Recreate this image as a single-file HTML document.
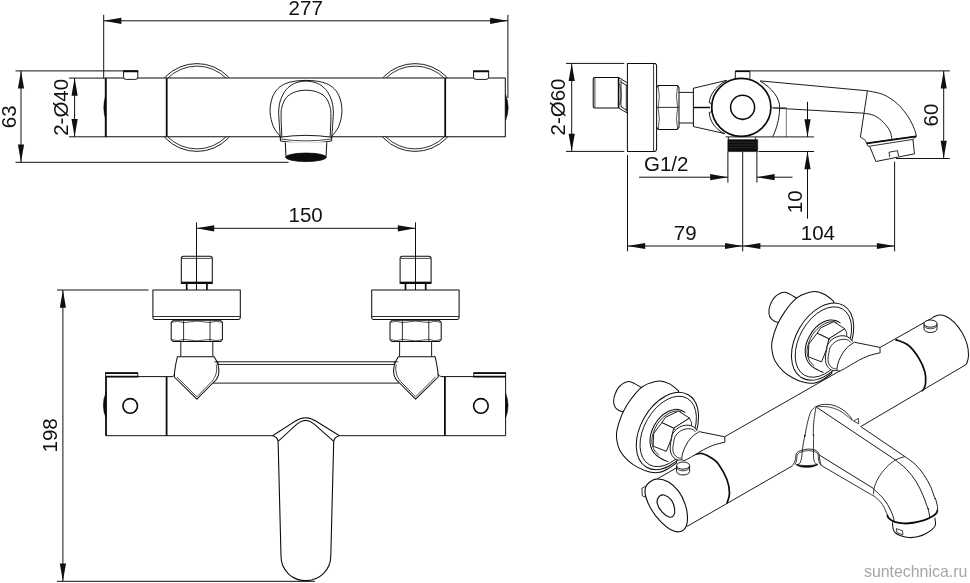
<!DOCTYPE html>
<html><head><meta charset="utf-8"><title>drawing</title>
<style>
html,body{margin:0;padding:0;background:#fff;}
body{width:970px;height:583px;overflow:hidden;font-family:"Liberation Sans",sans-serif;}
svg{display:block;will-change:transform;}
</style></head><body>
<svg width="970" height="583" viewBox="0 0 970 583" stroke-linecap="butt" stroke-linejoin="round">
<rect x="0" y="0" width="970" height="583" fill="#ffffff"/>
<g opacity="0.999">
<g id="v1">
<line x1="103.7" y1="14.8" x2="103.7" y2="78.1" stroke="#101010" stroke-width="1"/>
<line x1="507.9" y1="14.8" x2="507.9" y2="98" stroke="#101010" stroke-width="1"/>
<line x1="103.7" y1="20.8" x2="507.8" y2="20.8" stroke="#101010" stroke-width="1"/>
<polygon points="103.7,20.8 121.4,17.7 121.4,23.9" fill="#101010"/>
<polygon points="507.8,20.8 490.1,23.9 490.1,17.7" fill="#101010"/>
<text x="305.7" y="15.3" font-size="20.5" text-anchor="middle" fill="#111" font-family="'Liberation Sans', sans-serif">277</text>
<line x1="15.5" y1="70.9" x2="137.7" y2="70.9" stroke="#101010" stroke-width="1"/>
<line x1="15.5" y1="162.3" x2="288.5" y2="162.3" stroke="#101010" stroke-width="1"/>
<line x1="21" y1="70.9" x2="21" y2="162.3" stroke="#101010" stroke-width="1"/>
<polygon points="21,70.9 24.1,88.6 17.9,88.6" fill="#101010"/>
<polygon points="21,162.3 17.9,144.6 24.1,144.6" fill="#101010"/>
<text x="15.9" y="116.8" font-size="20.5" text-anchor="middle" fill="#111" font-family="'Liberation Sans', sans-serif" transform="rotate(-90 15.9 116.8)">63</text>
<line x1="69" y1="78.1" x2="106" y2="78.1" stroke="#101010" stroke-width="1"/>
<line x1="69" y1="136.8" x2="106" y2="136.8" stroke="#101010" stroke-width="1"/>
<line x1="74.6" y1="78.1" x2="74.6" y2="136.8" stroke="#101010" stroke-width="1"/>
<polygon points="74.6,78.1 77.7,95.8 71.5,95.8" fill="#101010"/>
<polygon points="74.6,136.8 71.5,119.1 77.7,119.1" fill="#101010"/>
<text x="68" y="107.3" font-size="20.5" text-anchor="middle" fill="#111" font-family="'Liberation Sans', sans-serif" transform="rotate(-90 68 107.3)">2-&#216;40</text>
<clipPath id="cpTop"><rect x="0" y="0" width="540" height="78.1"/><rect x="0" y="136.8" width="540" height="60"/></clipPath>
<g clip-path="url(#cpTop)">
<circle cx="196.9" cy="107.5" r="43.9" stroke="#0c0c0c" stroke-width="0.935" fill="none" />
<circle cx="196.9" cy="107.5" r="41.4" stroke="#0c0c0c" stroke-width="0.85" fill="none" />
<circle cx="415.1" cy="107.5" r="43.9" stroke="#0c0c0c" stroke-width="0.935" fill="none" />
<circle cx="415.1" cy="107.5" r="41.4" stroke="#0c0c0c" stroke-width="0.85" fill="none" />
</g>
<rect x="105.9" y="78.1" width="399.4" height="58.7" rx="0" stroke="#0c0c0c" stroke-width="1.02" fill="none"/>
<line x1="105.7" y1="78.1" x2="105.7" y2="136.8" stroke="#0c0c0c" stroke-width="1.8"/>
<line x1="166.7" y1="78.1" x2="166.7" y2="136.8" stroke="#0c0c0c" stroke-width="1.8"/>
<line x1="445.2" y1="78.1" x2="445.2" y2="136.8" stroke="#0c0c0c" stroke-width="1.8"/>
<path d="M105.7,95.5 Q101.9,107.5 105.7,119.5 Z" stroke="#0c0c0c" stroke-width="0.51" fill="#0c0c0c" />
<path d="M505.6,94.5 Q510.8,107.5 505.6,120.5 Z" stroke="#0c0c0c" stroke-width="0.51" fill="#0c0c0c" />
<path d="M123.6,71.2 L137.8,71.2 L137.8,77.3 Q137.8,79.4 135.2,79.4 L126.2,79.4 Q123.6,79.4 123.6,77.3 Z" stroke="#0c0c0c" stroke-width="0.935" fill="#fff" />
<line x1="123.1" y1="71.3" x2="138.3" y2="71.3" stroke="#0c0c0c" stroke-width="1.9"/>
<path d="M473.6,71.2 L488.6,71.2 L488.6,77.3 Q488.6,79.4 486,79.4 L476.2,79.4 Q473.6,79.4 473.6,77.3 Z" stroke="#0c0c0c" stroke-width="0.935" fill="#fff" />
<line x1="473.1" y1="71.3" x2="489.1" y2="71.3" stroke="#0c0c0c" stroke-width="1.9"/>
<path d="M280.6,136.8 C279.5,135.32 275.67,131.27 274,127.9 C272.33,124.53 271.23,120.05 270.6,116.6 C269.97,113.15 269.88,110.47 270.2,107.2 C270.52,103.93 271.25,100.07 272.5,97 C273.75,93.93 275.57,91.02 277.7,88.8 C279.83,86.58 282.47,84.97 285.3,83.7 C288.13,82.43 291.25,81.75 294.7,81.2 C298.15,80.65 302.23,80.4 306,80.4 C309.77,80.4 313.85,80.65 317.3,81.2 C320.75,81.75 323.87,82.43 326.7,83.7 C329.53,84.97 332.17,86.58 334.3,88.8 C336.43,91.02 338.25,93.93 339.5,97 C340.75,100.07 341.48,103.93 341.8,107.2 C342.12,110.47 342.03,113.15 341.4,116.6 C340.77,120.05 339.67,124.53 338,127.9 C336.33,131.27 332.5,135.32 331.4,136.8" stroke="#0c0c0c" stroke-width="0.935" fill="#fff" />
<path d="M280.4,139.2 C280.2,136.38 279.48,127.02 279.2,122.3 C278.92,117.58 278.47,114.65 278.7,110.9 C278.93,107.15 279.35,103.35 280.6,99.8 C281.85,96.25 283.85,92.35 286.2,89.6 C288.55,86.85 291.4,84.72 294.7,83.3 C298,81.88 302.23,81.1 306,81.1 C309.77,81.1 314,81.88 317.3,83.3 C320.6,84.72 323.45,86.85 325.8,89.6 C328.15,92.35 330.15,96.25 331.4,99.8 C332.65,103.35 333.07,107.15 333.3,110.9 C333.53,114.65 333.08,117.58 332.8,122.3 C332.52,127.02 331.8,136.38 331.6,139.2" stroke="#0c0c0c" stroke-width="0.935" fill="none" />
<path d="M281.9,138.3 C281.77,134.68 281.1,121.78 281.1,116.6 C281.1,111.42 281.05,110.35 281.9,107.2 C282.75,104.05 284.07,100.22 286.2,97.7 C288.33,95.18 291.4,93.35 294.7,92.1 C298,90.85 302.23,90.2 306,90.2 C309.77,90.2 314,90.85 317.3,92.1 C320.6,93.35 323.67,95.18 325.8,97.7 C327.93,100.22 329.25,104.05 330.1,107.2 C330.95,110.35 330.9,111.42 330.9,116.6 C330.9,121.78 330.23,134.68 330.1,138.3" stroke="#0c0c0c" stroke-width="0.935" fill="none" />
<path d="M280.4,137.2 Q306,133.5 331.6,137.2 L331.6,141 Q306,145.5 280.4,141 Z" stroke="#0c0c0c" stroke-width="0.935" fill="#fff" />
<path d="M280.4,139 Q306,142.8 331.6,139" stroke="#0c0c0c" stroke-width="0.765" fill="none" />
<path d="M285.3,142.3 L286,157 Q306,163 326,157 L326.8,142.3" stroke="#0c0c0c" stroke-width="1.02" fill="#fff" />
<ellipse cx="306" cy="157.3" rx="20.3" ry="4.2" stroke="#0c0c0c" stroke-width="0.85" fill="#0c0c0c"/>
</g>
<g id="v2">
<line x1="566" y1="63.4" x2="624.3" y2="63.4" stroke="#101010" stroke-width="1"/>
<line x1="566" y1="151.4" x2="624.3" y2="151.4" stroke="#101010" stroke-width="1"/>
<line x1="571.7" y1="63.4" x2="571.7" y2="151.4" stroke="#101010" stroke-width="1"/>
<polygon points="571.7,63.4 574.8,81.1 568.6,81.1" fill="#101010"/>
<polygon points="571.7,151.4 568.6,133.7 574.8,133.7" fill="#101010"/>
<text x="565.3" y="107" font-size="20.5" text-anchor="middle" fill="#111" font-family="'Liberation Sans', sans-serif" transform="rotate(-90 565.3 107)">2-&#216;60</text>
<path d="M627.4,63.4 L655.1,63.4 L656.6,65 L656.6,149.8 L655.1,151.4 L627.4,151.4 Z" stroke="#0c0c0c" stroke-width="1.02" fill="none" />
<line x1="653.6" y1="63.4" x2="653.6" y2="151.4" stroke="#0c0c0c" stroke-width="0.85"/>
<path d="M618.6,77.4 L594.7,77.4 Q593.2,77.4 593.2,78.9 L593.2,106.5 Q593.2,108 594.7,108 L618.6,108" stroke="#0c0c0c" stroke-width="1.02" fill="none" />
<line x1="594.9" y1="77.8" x2="594.9" y2="107.6" stroke="#0c0c0c" stroke-width="0.765"/>
<line x1="618.6" y1="77.4" x2="618.6" y2="108" stroke="#0c0c0c" stroke-width="1.6"/>
<path d="M618.6,77.4 L627.3,82.8 M618.6,108 L627.3,113 M621,82 L626.5,85.5 M621,106.6 L626.5,110.2" stroke="#0c0c0c" stroke-width="0.935" fill="none" />
<line x1="621" y1="80" x2="621" y2="107" stroke="#0c0c0c" stroke-width="0.85"/>
<line x1="626.3" y1="84.5" x2="626.3" y2="111.5" stroke="#0c0c0c" stroke-width="0.85"/>
<path d="M619.6,84 Q622.8,95 619.6,105" stroke="#0c0c0c" stroke-width="0.68" fill="none" />
<path d="M656.6,87.4 L658.4,85.4 L677.2,85.4 L679,87.4 L679,127.4 L677.2,129.4 L658.4,129.4 L656.6,127.4" stroke="#0c0c0c" stroke-width="1.02" fill="none" />
<line x1="656.6" y1="107.4" x2="679" y2="107.4" stroke="#0c0c0c" stroke-width="0.85"/>
<path d="M658.2,86 Q660.5,96.5 658.2,107 M677.6,86 Q675.3,96.5 677.6,107 M658.2,108 Q660.5,118.5 658.2,129 M677.6,108 Q675.3,118.5 677.6,129" stroke="#0c0c0c" stroke-width="0.68" fill="none" />
<line x1="679" y1="92.4" x2="693.3" y2="92.4" stroke="#0c0c0c" stroke-width="0.935"/>
<line x1="679" y1="123" x2="693.3" y2="123" stroke="#0c0c0c" stroke-width="0.935"/>
<line x1="693.4" y1="88.2" x2="693.4" y2="126.6" stroke="#0c0c0c" stroke-width="1.02"/>
<line x1="693.1" y1="88.3" x2="727" y2="80.3" stroke="#0c0c0c" stroke-width="0.935"/>
<line x1="693.1" y1="126.5" x2="725" y2="133.6" stroke="#0c0c0c" stroke-width="0.935"/>
<line x1="693.1" y1="107.5" x2="710" y2="107.5" stroke="#0c0c0c" stroke-width="1.5"/>
<path d="M760.4,80.9 L867.4,90.8 L867.4,90.8 C870.1,91.45 878.58,92.52 883.6,94.7 C888.62,96.88 893.38,100.18 897.5,103.9 C901.62,107.62 905.47,112.75 908.3,117 C911.13,121.25 913.17,126.18 914.5,129.4 C915.83,132.62 916,135.15 916.3,136.3" stroke="#0c0c0c" stroke-width="0.935" fill="none" />
<path d="M772.7,108 L863.5,113.2 L863.5,113.2 C865.3,113.58 870.95,113.95 874.3,115.5 C877.65,117.05 881.02,119.93 883.6,122.5 C886.18,125.07 888.38,128.08 889.8,130.9 C891.22,133.72 891.72,137.98 892.1,139.4" stroke="#0c0c0c" stroke-width="0.935" fill="none" />
<path d="M867.4,90.8 L860.4,137.1 L860.4,137.1 C861.18,137.62 864.07,139.17 865.1,140.2 C866.13,141.23 866.08,142.27 866.6,143.3 C867.12,144.33 867.93,145.88 868.2,146.4" stroke="#0c0c0c" stroke-width="0.935" fill="none" />
<path d="M866.6,143.3 L916.3,136.3 L912.9,139.4 L868.2,146.4" stroke="#0c0c0c" stroke-width="0.85" fill="none" />
<path d="M866.6,143.3 L916.3,136.3" stroke="#0c0c0c" stroke-width="1.7" fill="none" />
<path d="M869.7,146.4 L875.9,161.5 L914.5,153.8 L912.9,139.4" stroke="#0c0c0c" stroke-width="0.935" fill="none" />
<path d="M889.8,157.2 L889,152.2 L897.5,150.7 L898.6,156" stroke="#0c0c0c" stroke-width="0.85" fill="none" />
<path d="M760,81 C772,88 780,98 779.7,108 C779.4,120 776,130 772.7,136.7" stroke="#0c0c0c" stroke-width="0.935" fill="none" />
<path d="M772,107.6 L786.3,107.6 L786.3,136.9" stroke="#555" stroke-width="0.85" fill="none" />
<line x1="725.6" y1="136.9" x2="814" y2="136.9" stroke="#0c0c0c" stroke-width="0.935"/>
<line x1="758.5" y1="151.5" x2="814" y2="151.5" stroke="#101010" stroke-width="1"/>
<ellipse cx="741.3" cy="107.3" rx="29.6" ry="29" stroke="#0c0c0c" stroke-width="1.7" fill="#fff"/>
<path d="M726.5,80.6 C714,87 709.3,97 709.3,102.8 L711.6,103.4 L711.6,111.8 L709.3,112.4 C709.5,120 714,128.5 725,134" stroke="#0c0c0c" stroke-width="0.935" fill="none" />
<circle cx="742.6" cy="107.3" r="12" stroke="#0c0c0c" stroke-width="1.5" fill="none" />
<path d="M741.6,119.2 L742.6,120.4 L743.6,119.2" stroke="#0c0c0c" stroke-width="0.765" fill="none" />
<path d="M735.3,78.6 L735.3,71.4 L749.9,71.4 L749.9,78.6" stroke="#0c0c0c" stroke-width="0.935" fill="none" />
<line x1="735.3" y1="71.2" x2="749.9" y2="71.2" stroke="#0c0c0c" stroke-width="1.8"/>
<rect x="727.8" y="139.6" width="29.9" height="12" rx="0" stroke="#0d0d0d" stroke-width="0.51" fill="#0d0d0d"/>
<line x1="729" y1="142.2" x2="756.5" y2="142.2" stroke="#555" stroke-width="0.425"/>
<line x1="729" y1="145" x2="756.5" y2="145" stroke="#555" stroke-width="0.425"/>
<line x1="729" y1="147.8" x2="756.5" y2="147.8" stroke="#555" stroke-width="0.425"/>
<line x1="728.4" y1="137" x2="728.4" y2="139.8" stroke="#0c0c0c" stroke-width="0.85"/>
<line x1="755.6" y1="137" x2="755.6" y2="139.8" stroke="#0c0c0c" stroke-width="0.85"/>
<line x1="750" y1="70.9" x2="949.8" y2="70.9" stroke="#101010" stroke-width="1"/>
<line x1="896" y1="158.5" x2="949.8" y2="158.5" stroke="#101010" stroke-width="1"/>
<line x1="943.7" y1="70.9" x2="943.7" y2="158.5" stroke="#101010" stroke-width="1"/>
<polygon points="943.7,70.9 946.8,88.6 940.6,88.6" fill="#101010"/>
<polygon points="943.7,158.5 940.6,140.8 946.8,140.8" fill="#101010"/>
<text x="938" y="115" font-size="20.5" text-anchor="middle" fill="#111" font-family="'Liberation Sans', sans-serif" transform="rotate(-90 938 115)">60</text>
<line x1="807.5" y1="101.8" x2="807.5" y2="136.9" stroke="#101010" stroke-width="1"/>
<polygon points="807.5,136.9 804.4,119.2 810.6,119.2" fill="#101010"/>
<line x1="807.5" y1="151.5" x2="807.5" y2="218.7" stroke="#101010" stroke-width="1"/>
<polygon points="807.5,151.5 810.6,169.2 804.4,169.2" fill="#101010"/>
<text x="801.6" y="201.8" font-size="20.5" text-anchor="middle" fill="#111" font-family="'Liberation Sans', sans-serif" transform="rotate(-90 801.6 201.8)">10</text>
<line x1="639" y1="177.2" x2="727.9" y2="177.2" stroke="#101010" stroke-width="1"/>
<line x1="756.9" y1="177.2" x2="792.5" y2="177.2" stroke="#101010" stroke-width="1"/>
<polygon points="727.9,177.2 710.2,180.3 710.2,174.1" fill="#101010"/>
<polygon points="756.9,177.2 774.6,174.1 774.6,180.3" fill="#101010"/>
<line x1="727.9" y1="151.5" x2="727.9" y2="182.6" stroke="#101010" stroke-width="1"/>
<line x1="756.9" y1="151.5" x2="756.9" y2="182.6" stroke="#101010" stroke-width="1"/>
<text x="644" y="170.6" font-size="20.5" text-anchor="start" fill="#111" font-family="'Liberation Sans', sans-serif">G1/2</text>
<line x1="627.5" y1="155" x2="627.5" y2="251.3" stroke="#101010" stroke-width="1"/>
<line x1="742.7" y1="151.5" x2="742.7" y2="251.3" stroke="#101010" stroke-width="1"/>
<line x1="894.6" y1="161.7" x2="894.6" y2="251.3" stroke="#101010" stroke-width="1"/>
<line x1="627.5" y1="246" x2="894.6" y2="246" stroke="#101010" stroke-width="1"/>
<polygon points="627.5,246 645.2,242.9 645.2,249.1" fill="#101010"/>
<polygon points="742.7,246 725,249.1 725,242.9" fill="#101010"/>
<polygon points="742.7,246 760.4,242.9 760.4,249.1" fill="#101010"/>
<polygon points="894.6,246 876.9,249.1 876.9,242.9" fill="#101010"/>
<text x="685.2" y="239.6" font-size="20.5" text-anchor="middle" fill="#111" font-family="'Liberation Sans', sans-serif">79</text>
<text x="817.9" y="239.6" font-size="20.5" text-anchor="middle" fill="#111" font-family="'Liberation Sans', sans-serif">104</text>
</g>
<g id="v3">
<line x1="196.5" y1="222.4" x2="196.5" y2="290" stroke="#101010" stroke-width="1"/>
<line x1="415.5" y1="222.4" x2="415.5" y2="290" stroke="#101010" stroke-width="1"/>
<line x1="196.5" y1="228.3" x2="415.5" y2="228.3" stroke="#101010" stroke-width="1"/>
<polygon points="196.5,228.3 214.2,225.2 214.2,231.4" fill="#101010"/>
<polygon points="415.5,228.3 397.8,231.4 397.8,225.2" fill="#101010"/>
<text x="305.6" y="222.4" font-size="20.5" text-anchor="middle" fill="#111" font-family="'Liberation Sans', sans-serif">150</text>
<line x1="57" y1="290" x2="148.5" y2="290" stroke="#101010" stroke-width="1"/>
<line x1="57" y1="581.3" x2="315" y2="581.3" stroke="#101010" stroke-width="1"/>
<line x1="62.9" y1="290" x2="62.9" y2="581.3" stroke="#101010" stroke-width="1"/>
<polygon points="62.9,290 66,307.7 59.8,307.7" fill="#101010"/>
<polygon points="62.9,581.3 59.8,563.6 66,563.6" fill="#101010"/>
<text x="56.6" y="435.4" font-size="20.5" text-anchor="middle" fill="#111" font-family="'Liberation Sans', sans-serif" transform="rotate(-90 56.6 435.4)">198</text>
<path d="M181.3,283.6 L181.3,258.4 Q181.3,256.2 183.5,256.2 L210.1,256.2 Q212.3,256.2 212.3,258.4 L212.3,283.6 Z" stroke="#0c0c0c" stroke-width="1.02" fill="none" />
<line x1="181.8" y1="258.4" x2="211.8" y2="258.4" stroke="#0c0c0c" stroke-width="0.765"/>
<line x1="181.6" y1="282.6" x2="212" y2="282.6" stroke="#0c0c0c" stroke-width="1.9"/>
<line x1="186.7" y1="283.6" x2="186.7" y2="290" stroke="#0c0c0c" stroke-width="1.7"/>
<line x1="206.9" y1="283.6" x2="206.9" y2="290" stroke="#0c0c0c" stroke-width="1.7"/>
<path d="M152.9,290 L240.3,290 L240.3,317.6 Q240.3,319.4 238.5,319.4 L154.7,319.4 Q152.9,319.4 152.9,317.6 Z" stroke="#0c0c0c" stroke-width="1.02" fill="none" />
<line x1="152.9" y1="316.5" x2="240.3" y2="316.5" stroke="#0c0c0c" stroke-width="0.85"/>
<path d="M173.2,320.3 L220.4,320.3 L222.4,322.3 L222.4,339.6 L220.4,341.6 L173.2,341.6 L171.2,339.6 L171.2,322.3 Z" stroke="#0c0c0c" stroke-width="1.02" fill="none" />
<line x1="183.6" y1="320.8" x2="183.6" y2="341.2" stroke="#0c0c0c" stroke-width="0.85"/>
<line x1="210" y1="320.8" x2="210" y2="341.2" stroke="#0c0c0c" stroke-width="0.85"/>
<path d="M183.6,322.6 Q196.8,319.6 210,322.6 M183.6,339.4 Q196.8,342.4 210,339.4" stroke="#0c0c0c" stroke-width="0.68" fill="none" />
<path d="M172,322.3 Q177.4,320 183.6,322.6 M221.6,322.3 Q216.2,320 210,322.6 M172,339.6 Q177.4,342 183.6,339.4 M221.6,339.6 Q216.2,342 210,339.4" stroke="#0c0c0c" stroke-width="0.68" fill="none" />
<line x1="180.8" y1="341.6" x2="180.8" y2="356.7" stroke="#0c0c0c" stroke-width="0.935"/>
<line x1="212.8" y1="341.6" x2="212.8" y2="356.7" stroke="#0c0c0c" stroke-width="0.935"/>
<path d="M400.1,283.6 L400.1,258.4 Q400.1,256.2 402.3,256.2 L428.9,256.2 Q431.1,256.2 431.1,258.4 L431.1,283.6 Z" stroke="#0c0c0c" stroke-width="1.02" fill="none" />
<line x1="400.6" y1="258.4" x2="430.6" y2="258.4" stroke="#0c0c0c" stroke-width="0.765"/>
<line x1="400.4" y1="282.6" x2="430.8" y2="282.6" stroke="#0c0c0c" stroke-width="1.9"/>
<line x1="405.5" y1="283.6" x2="405.5" y2="290" stroke="#0c0c0c" stroke-width="1.7"/>
<line x1="425.7" y1="283.6" x2="425.7" y2="290" stroke="#0c0c0c" stroke-width="1.7"/>
<path d="M371.7,290 L459.1,290 L459.1,317.6 Q459.1,319.4 457.3,319.4 L373.5,319.4 Q371.7,319.4 371.7,317.6 Z" stroke="#0c0c0c" stroke-width="1.02" fill="none" />
<line x1="371.7" y1="316.5" x2="459.1" y2="316.5" stroke="#0c0c0c" stroke-width="0.85"/>
<path d="M392,320.3 L439.2,320.3 L441.2,322.3 L441.2,339.6 L439.2,341.6 L392,341.6 L390,339.6 L390,322.3 Z" stroke="#0c0c0c" stroke-width="1.02" fill="none" />
<line x1="402.4" y1="320.8" x2="402.4" y2="341.2" stroke="#0c0c0c" stroke-width="0.85"/>
<line x1="428.8" y1="320.8" x2="428.8" y2="341.2" stroke="#0c0c0c" stroke-width="0.85"/>
<path d="M402.4,322.6 Q415.6,319.6 428.8,322.6 M402.4,339.4 Q415.6,342.4 428.8,339.4" stroke="#0c0c0c" stroke-width="0.68" fill="none" />
<path d="M390.8,322.3 Q396.2,320 402.4,322.6 M440.4,322.3 Q435,320 428.8,322.6 M390.8,339.6 Q396.2,342 402.4,339.4 M440.4,339.6 Q435,342 428.8,339.4" stroke="#0c0c0c" stroke-width="0.68" fill="none" />
<line x1="399.6" y1="341.6" x2="399.6" y2="356.7" stroke="#0c0c0c" stroke-width="0.935"/>
<line x1="431.6" y1="341.6" x2="431.6" y2="356.7" stroke="#0c0c0c" stroke-width="0.935"/>
<line x1="216" y1="361.8" x2="396" y2="361.8" stroke="#0c0c0c" stroke-width="0.935"/>
<line x1="217" y1="364.5" x2="395" y2="364.5" stroke="#0c0c0c" stroke-width="0.85"/>
<line x1="213" y1="383.1" x2="399" y2="383.1" stroke="#0c0c0c" stroke-width="0.935"/>
<path d="M172.9,376.6 L106,376.6 L106,435.7 L272.5,435.7" stroke="#0c0c0c" stroke-width="0.977" fill="none" />
<line x1="106" y1="376.5" x2="106" y2="435.7" stroke="#0c0c0c" stroke-width="1.6"/>
<path d="M441,376.6 L505.6,376.6 L505.6,435.7 L339.5,435.7" stroke="#0c0c0c" stroke-width="0.977" fill="none" />
<line x1="166.6" y1="376.5" x2="166.6" y2="435.7" stroke="#0c0c0c" stroke-width="1.8"/>
<line x1="444.9" y1="376.5" x2="444.9" y2="435.7" stroke="#0c0c0c" stroke-width="1.8"/>
<path d="M177.4,356.7 L214.2,356.7 C216.9,361 219.2,366 218.9,371.5 C218.7,377 216.4,380 213.9,382 L196.9,399.2 L174.3,377 C174.5,370 175.9,363 177.4,356.7 Z" stroke="#0c0c0c" stroke-width="1.02" fill="#fff" />
<path d="M175.9,380.8 L196.9,401.2" stroke="#0c0c0c" stroke-width="0" fill="none" />
<path d="M216.2,364.5 C217.5,370 216.4,376 211.9,381.5 L196.9,396.8 L176.9,377" stroke="#0c0c0c" stroke-width="0.765" fill="none" />
<path d="M214.2,361.8 L217.9,361.8 L218.5,364.6" stroke="#0c0c0c" stroke-width="0.765" fill="none" />
<path d="M435.1,356.7 L398.3,356.7 C395.6,361 393.3,366 393.6,371.5 C393.8,377 396.1,380 398.6,382 L415.6,399.2 L438.2,377 C438,370 436.6,363 435.1,356.7 Z" stroke="#0c0c0c" stroke-width="1.02" fill="#fff" />
<path d="M436.6,380.8 L415.6,401.2" stroke="#0c0c0c" stroke-width="0" fill="none" />
<path d="M396.3,364.5 C395,370 396.1,376 400.6,381.5 L415.6,396.8 L435.6,377" stroke="#0c0c0c" stroke-width="0.765" fill="none" />
<path d="M398.3,361.8 L394.6,361.8 L394,364.6" stroke="#0c0c0c" stroke-width="0.765" fill="none" />
<path d="M172.9,376.5 Q174.5,376 174.3,374" stroke="#0c0c0c" stroke-width="0.85" fill="none" />
<path d="M441,376.5 Q438.5,376 438.2,374" stroke="#0c0c0c" stroke-width="0.85" fill="none" />
<path d="M105.6,376.5 L105.6,373 L137.8,373 L137.8,376.5" stroke="#0c0c0c" stroke-width="0.85" fill="none" />
<line x1="105.1" y1="373.1" x2="138" y2="373.1" stroke="#0c0c0c" stroke-width="1.9"/>
<line x1="105.5" y1="376.6" x2="138.3" y2="376.6" stroke="#0c0c0c" stroke-width="1.8"/>
<path d="M505.6,376.5 L505.6,373 L473.8,373 L473.8,376.5" stroke="#0c0c0c" stroke-width="0.85" fill="none" />
<line x1="473.5" y1="373.1" x2="506.1" y2="373.1" stroke="#0c0c0c" stroke-width="1.9"/>
<line x1="473.3" y1="376.6" x2="506" y2="376.6" stroke="#0c0c0c" stroke-width="1.8"/>
<circle cx="130.2" cy="405.9" r="7.3" stroke="#0c0c0c" stroke-width="1.6" fill="none" />
<circle cx="480.9" cy="405.9" r="7.3" stroke="#0c0c0c" stroke-width="1.6" fill="none" />
<path d="M106,392.5 Q100.6,405.2 106,418 Z" stroke="#0c0c0c" stroke-width="0.51" fill="#0c0c0c" />
<path d="M505.6,393 Q510.6,405.5 505.6,418 Z" stroke="#0c0c0c" stroke-width="0.51" fill="#0c0c0c" />
<path d="M272.5,435.7 L294.6,421.5 Q305.6,414 316.6,421.5 L339.5,435.7" stroke="#0c0c0c" stroke-width="1.02" fill="none" />
<path d="M278.1,441.4 L297.2,423.8 Q305.6,417 314,423.8 L333.7,441.4" stroke="#0c0c0c" stroke-width="1.02" fill="none" />
<path d="M272.5,435.6 Q277.6,437.5 278.1,441.4 L281,556 C281,570 292,580.6 305.7,580.6 C319.5,580.6 330.8,570 330.8,556 L333.7,441.4 Q334.2,437.5 339.5,435.6" stroke="#0c0c0c" stroke-width="1.105" fill="none" />
</g>
<g id="v4">
<line x1="880" y1="347.5" x2="933.5" y2="317.2" stroke="#0c0c0c" stroke-width="0.935"/>
<line x1="686.9" y1="526.5" x2="792.7" y2="465.7" stroke="#0c0c0c" stroke-width="0.935"/>
<line x1="861.2" y1="426.3" x2="966" y2="364.6" stroke="#0c0c0c" stroke-width="0.935"/>
<path d="M932.9,317.2 C933.9,316.85 936.77,315.25 938.9,315.1 C941.03,314.95 943.13,315.1 945.7,316.3 C948.27,317.5 951.58,319.58 954.3,322.3 C957.02,325.02 959.85,328.88 962,332.6 C964.15,336.32 966.12,340.88 967.2,344.6 C968.28,348.32 968.47,352.08 968.5,354.9 C968.53,357.72 967.82,359.88 967.4,361.5 C966.98,363.12 966.23,364.08 966,364.6" stroke="#0c0c0c" stroke-width="1.02" fill="none" />
<path d="M895.5,339.6 C897.68,340.58 904.7,342.38 908.6,345.5 C912.5,348.62 916.18,353.88 918.9,358.3 C921.62,362.72 923.78,367.88 924.9,372 C926.02,376.12 925.75,380.25 925.6,383 C925.45,385.75 924.63,387.13 924,388.5 C923.37,389.87 922.17,390.75 921.8,391.2" stroke="#0c0c0c" stroke-width="1.7" fill="none" />
<path d="M689.19,456.3 C690.34,455.92 693.77,454.49 696.05,454.07 C698.34,453.64 700.34,453.06 702.92,453.72 C705.49,454.38 708.92,456.3 711.49,458.01 C714.07,459.73 715.78,460.44 718.35,464.01 C720.93,467.59 725.07,474.59 726.93,479.45 C728.79,484.31 729.5,489.17 729.5,493.17 C729.5,497.18 727.36,501.75 726.93,503.46" stroke="#0c0c0c" stroke-width="1.7" fill="none" />
<path d="M656.87,479.05 C660.15,478.93 664.88,479.9 668.53,481.97 C672.17,484.03 675.94,487.68 678.73,491.44 C681.53,495.21 683.83,500.43 685.29,504.56 C686.75,508.69 687.36,512.58 687.48,516.22 C687.6,519.87 687.24,523.88 686.02,526.43 C684.81,528.98 682.62,530.92 680.19,531.53 C677.76,532.14 674.84,531.9 671.44,530.07 C668.04,528.25 663.18,524.12 659.78,520.6 C656.38,517.07 653.34,512.82 651.03,508.94 C648.73,505.05 646.9,500.68 645.93,497.27 C644.96,493.87 644.72,490.96 645.2,488.53 C645.69,486.1 646.9,484.28 648.85,482.7 C650.79,481.12 653.59,479.17 656.87,479.05 Z" stroke="#0c0c0c" stroke-width="1.105" fill="#fff" />
<path d="M664.15,495.09 C666.22,495.69 669.69,497.88 671.44,500.19 C673.19,502.5 674.29,506.38 674.65,508.94 C675.01,511.49 674.53,514.16 673.63,515.5 C672.73,516.83 671.2,517.56 669.26,516.95 C667.31,516.35 663.98,514.16 661.97,511.85 C659.95,509.54 657.64,505.66 657.16,503.1 C656.67,500.55 657.89,497.88 659.05,496.55 C660.22,495.21 662.09,494.48 664.15,495.09 Z" stroke="#0c0c0c" stroke-width="1.105" fill="none" />
<path d="M646.37,485.9 L641.85,488.24 L642.29,495.82 L646.08,497.27" stroke="#0c0c0c" stroke-width="0.85" fill="none" />
<path d="M924,323.6 L924,328.9 A6.5,3.6 0 0 0 937,328.9 L937,323.6" stroke="#0c0c0c" stroke-width="0.935" fill="#fff" />
<ellipse cx="930.5" cy="323.6" rx="6.5" ry="3.6" stroke="#0c0c0c" stroke-width="0.935" fill="#fff"/>
<path d="M924,325.2 A6.5,3.6 0 0 0 937,325.2" stroke="#0c0c0c" stroke-width="0.765" fill="none" />
<g transform="translate(155.2,-89.4)">
<path d="M642.88,388.52 C640.74,387.38 633.73,382.18 630.02,381.66 C626.3,381.15 623.07,383.38 620.58,385.44 C618.1,387.5 616.24,391.15 615.09,394.01 C613.95,396.87 613.52,400.16 613.72,402.59 C613.92,405.02 614.72,407.02 616.3,408.59 C617.87,410.17 621.58,411.74 623.16,412.02 C624.73,412.31 625.3,410.59 625.73,410.31" stroke="#0c0c0c" stroke-width="1.02" fill="#fff" />
<path d="M678.53,390.84 C677.04,389.69 672.73,385.54 669.58,383.89 C666.43,382.23 663.29,380.9 659.64,380.9 C656,380.9 651.03,382.56 647.71,383.89 C644.4,385.21 642.74,386.04 639.76,388.86 C636.78,391.67 632.8,396.48 629.82,400.79 C626.84,405.09 624.02,409.73 621.87,414.7 C619.72,419.67 617.73,426.3 616.9,430.61 C616.07,434.91 616.4,437.23 616.9,440.55 C617.4,443.86 618.06,447.17 619.88,450.49 C621.7,453.8 624.85,457.61 627.83,460.43 C630.82,463.24 634.13,465.46 637.77,467.39 C641.42,469.31 646.06,471.13 649.7,471.96 C653.35,472.79 656.49,472.95 659.64,472.36 C662.79,471.76 665.77,469.97 668.59,468.38 C671.4,466.79 675.22,463.74 676.54,462.81 Z" stroke="#0c0c0c" stroke-width="1.02" fill="#fff" />
<ellipse cx="667.4" cy="431" rx="26.7" ry="41.75" stroke="#0c0c0c" stroke-width="1.02" fill="#fff" transform="rotate(29.9 667.4 431)"/>
<ellipse cx="668.2" cy="431.45" rx="24" ry="38.2" stroke="#0c0c0c" stroke-width="0.85" fill="none" transform="rotate(29.9 668.2 431.45)"/>
<path d="M668.28,461.84 C667.31,461.41 664.42,460.3 662.49,459.27 C660.57,458.24 658.42,457.17 656.71,455.67 C655,454.17 653.32,452.46 652.21,450.27 C651.1,448.08 650.24,445.34 650.03,442.56 C649.81,439.77 650.13,436.56 650.93,433.56 C651.72,430.56 653.17,427.35 654.78,424.56 C656.39,421.78 658.42,418.99 660.57,416.85 C662.71,414.71 665.28,412.95 667.63,411.71 C669.99,410.47 672.46,409.65 674.7,409.4 C676.95,409.14 679.37,409.63 681.13,410.17 C682.89,410.7 684.56,412.2 685.24,412.61" stroke="#0c0c0c" stroke-width="1.02" fill="none" />
<path d="M659.28,455.41 C658.53,454.66 655.9,452.52 654.78,450.91 C653.67,449.31 653.09,447.59 652.6,445.77 C652.1,443.95 651.68,442.24 651.83,439.99 C651.98,437.74 652.57,434.95 653.5,432.28 C654.42,429.6 655.75,426.38 657.35,423.92 C658.96,421.46 661.1,419.31 663.14,417.49 C665.17,415.67 667.42,414.07 669.56,412.99 C671.71,411.92 674.02,411.26 675.99,411.07 C677.96,410.87 680.49,411.71 681.39,411.84" stroke="#0c0c0c" stroke-width="0.85" fill="none" />
<path d="M661.85,422.63 L665.71,417.11 L678.56,411.07 L689.49,418.14 L673.68,428.16 Z" stroke="#0c0c0c" stroke-width="0.935" fill="#fff" />
<path d="M673.68,428.16 L689.49,418.14 L691.67,422.63 L691.16,427.13 L678.56,433.56 Z" stroke="#0c0c0c" stroke-width="0.85" fill="#fff" />
<path d="M661.85,422.63 L673.68,428.16 L670.85,439.99 L666.35,451.3 L653.11,446.16 L653.62,433.56 Z" stroke="#0c0c0c" stroke-width="0.935" fill="#fff" />
<path d="M682.42,459.52 C681.77,459.61 679.95,460.3 678.56,460.04 C677.17,459.78 675.35,459.18 674.06,457.98 C672.78,456.78 671.49,454.77 670.85,452.84 C670.21,450.91 670.1,448.77 670.21,446.41 C670.31,444.06 671.06,440.84 671.49,438.7 C671.92,436.56 671.92,435.17 672.78,433.56 C673.63,431.95 675.03,430.35 676.63,429.06 C678.24,427.78 680.38,426.49 682.42,425.85 C684.45,425.21 686.92,424.99 688.84,425.21 C690.77,425.42 692.55,426.17 693.98,427.13 C695.42,428.1 696.88,430.35 697.46,430.99 L699.13,437.42 L691.41,456.7 Z" stroke="none" stroke-width="0" fill="#fff" />
<path d="M682.42,459.52 C681.77,459.61 679.95,460.3 678.56,460.04 C677.17,459.78 675.35,459.18 674.06,457.98 C672.78,456.78 671.49,454.77 670.85,452.84 C670.21,450.91 670.1,448.77 670.21,446.41 C670.31,444.06 671.06,440.84 671.49,438.7 C671.92,436.56 671.92,435.17 672.78,433.56 C673.63,431.95 675.03,430.35 676.63,429.06 C678.24,427.78 680.38,426.49 682.42,425.85 C684.45,425.21 686.92,424.99 688.84,425.21 C690.77,425.42 692.55,426.17 693.98,427.13 C695.42,428.1 696.88,430.35 697.46,430.99" stroke="#0c0c0c" stroke-width="0.935" fill="none" />
<path d="M681.13,458.24 C680.49,458.09 678.45,458.02 677.28,457.34 C676.1,456.65 674.81,455.52 674.06,454.13 C673.31,452.73 672.84,450.91 672.78,448.98 C672.71,447.06 673.35,444.49 673.68,442.56 C674,440.63 674,439.02 674.7,437.42 C675.41,435.81 676.53,434.2 677.92,432.92 C679.31,431.63 681.24,430.41 683.06,429.7 C684.88,429 687.13,428.68 688.84,428.68 C690.56,428.68 692.23,429.17 693.34,429.7 C694.46,430.24 695.16,431.53 695.53,431.89" stroke="#0c0c0c" stroke-width="0.85" fill="none" />
</g>
<g transform="translate(155.2,-89.4)">
<path d="M681.77,459.65 C681.88,458.73 681.77,456.44 682.42,454.13 C683.06,451.81 684.13,448.56 685.63,445.77 C687.13,442.99 689.16,439.77 691.41,437.42 C693.66,435.06 697.84,432.6 699.13,431.63 L724.7,436.77 L724.96,442.17 L724.96,442.17 C723.05,442.66 717.14,443.84 713.52,445.13 C709.9,446.41 706.52,448.17 703.24,449.88 C699.96,451.6 696.9,453.68 693.86,455.41 C690.81,457.15 687,459.59 684.99,460.3 C682.97,461 682.31,459.76 681.77,459.65 Z" stroke="#0c0c0c" stroke-width="0.935" fill="#fff" />
</g>
<g transform="translate(0,0)">
<path d="M642.88,388.52 C640.74,387.38 633.73,382.18 630.02,381.66 C626.3,381.15 623.07,383.38 620.58,385.44 C618.1,387.5 616.24,391.15 615.09,394.01 C613.95,396.87 613.52,400.16 613.72,402.59 C613.92,405.02 614.72,407.02 616.3,408.59 C617.87,410.17 621.58,411.74 623.16,412.02 C624.73,412.31 625.3,410.59 625.73,410.31" stroke="#0c0c0c" stroke-width="1.02" fill="#fff" />
<path d="M678.53,390.84 C677.04,389.69 672.73,385.54 669.58,383.89 C666.43,382.23 663.29,380.9 659.64,380.9 C656,380.9 651.03,382.56 647.71,383.89 C644.4,385.21 642.74,386.04 639.76,388.86 C636.78,391.67 632.8,396.48 629.82,400.79 C626.84,405.09 624.02,409.73 621.87,414.7 C619.72,419.67 617.73,426.3 616.9,430.61 C616.07,434.91 616.4,437.23 616.9,440.55 C617.4,443.86 618.06,447.17 619.88,450.49 C621.7,453.8 624.85,457.61 627.83,460.43 C630.82,463.24 634.13,465.46 637.77,467.39 C641.42,469.31 646.06,471.13 649.7,471.96 C653.35,472.79 656.49,472.95 659.64,472.36 C662.79,471.76 665.77,469.97 668.59,468.38 C671.4,466.79 675.22,463.74 676.54,462.81 Z" stroke="#0c0c0c" stroke-width="1.02" fill="#fff" />
<ellipse cx="667.4" cy="431" rx="26.7" ry="41.75" stroke="#0c0c0c" stroke-width="1.02" fill="#fff" transform="rotate(29.9 667.4 431)"/>
<ellipse cx="668.2" cy="431.45" rx="24" ry="38.2" stroke="#0c0c0c" stroke-width="0.85" fill="none" transform="rotate(29.9 668.2 431.45)"/>
<path d="M668.28,461.84 C667.31,461.41 664.42,460.3 662.49,459.27 C660.57,458.24 658.42,457.17 656.71,455.67 C655,454.17 653.32,452.46 652.21,450.27 C651.1,448.08 650.24,445.34 650.03,442.56 C649.81,439.77 650.13,436.56 650.93,433.56 C651.72,430.56 653.17,427.35 654.78,424.56 C656.39,421.78 658.42,418.99 660.57,416.85 C662.71,414.71 665.28,412.95 667.63,411.71 C669.99,410.47 672.46,409.65 674.7,409.4 C676.95,409.14 679.37,409.63 681.13,410.17 C682.89,410.7 684.56,412.2 685.24,412.61" stroke="#0c0c0c" stroke-width="1.02" fill="none" />
<path d="M659.28,455.41 C658.53,454.66 655.9,452.52 654.78,450.91 C653.67,449.31 653.09,447.59 652.6,445.77 C652.1,443.95 651.68,442.24 651.83,439.99 C651.98,437.74 652.57,434.95 653.5,432.28 C654.42,429.6 655.75,426.38 657.35,423.92 C658.96,421.46 661.1,419.31 663.14,417.49 C665.17,415.67 667.42,414.07 669.56,412.99 C671.71,411.92 674.02,411.26 675.99,411.07 C677.96,410.87 680.49,411.71 681.39,411.84" stroke="#0c0c0c" stroke-width="0.85" fill="none" />
<path d="M661.85,422.63 L665.71,417.11 L678.56,411.07 L689.49,418.14 L673.68,428.16 Z" stroke="#0c0c0c" stroke-width="0.935" fill="#fff" />
<path d="M673.68,428.16 L689.49,418.14 L691.67,422.63 L691.16,427.13 L678.56,433.56 Z" stroke="#0c0c0c" stroke-width="0.85" fill="#fff" />
<path d="M661.85,422.63 L673.68,428.16 L670.85,439.99 L666.35,451.3 L653.11,446.16 L653.62,433.56 Z" stroke="#0c0c0c" stroke-width="0.935" fill="#fff" />
<path d="M682.42,459.52 C681.77,459.61 679.95,460.3 678.56,460.04 C677.17,459.78 675.35,459.18 674.06,457.98 C672.78,456.78 671.49,454.77 670.85,452.84 C670.21,450.91 670.1,448.77 670.21,446.41 C670.31,444.06 671.06,440.84 671.49,438.7 C671.92,436.56 671.92,435.17 672.78,433.56 C673.63,431.95 675.03,430.35 676.63,429.06 C678.24,427.78 680.38,426.49 682.42,425.85 C684.45,425.21 686.92,424.99 688.84,425.21 C690.77,425.42 692.55,426.17 693.98,427.13 C695.42,428.1 696.88,430.35 697.46,430.99 L699.13,437.42 L691.41,456.7 Z" stroke="none" stroke-width="0" fill="#fff" />
<path d="M682.42,459.52 C681.77,459.61 679.95,460.3 678.56,460.04 C677.17,459.78 675.35,459.18 674.06,457.98 C672.78,456.78 671.49,454.77 670.85,452.84 C670.21,450.91 670.1,448.77 670.21,446.41 C670.31,444.06 671.06,440.84 671.49,438.7 C671.92,436.56 671.92,435.17 672.78,433.56 C673.63,431.95 675.03,430.35 676.63,429.06 C678.24,427.78 680.38,426.49 682.42,425.85 C684.45,425.21 686.92,424.99 688.84,425.21 C690.77,425.42 692.55,426.17 693.98,427.13 C695.42,428.1 696.88,430.35 697.46,430.99" stroke="#0c0c0c" stroke-width="0.935" fill="none" />
<path d="M681.13,458.24 C680.49,458.09 678.45,458.02 677.28,457.34 C676.1,456.65 674.81,455.52 674.06,454.13 C673.31,452.73 672.84,450.91 672.78,448.98 C672.71,447.06 673.35,444.49 673.68,442.56 C674,440.63 674,439.02 674.7,437.42 C675.41,435.81 676.53,434.2 677.92,432.92 C679.31,431.63 681.24,430.41 683.06,429.7 C684.88,429 687.13,428.68 688.84,428.68 C690.56,428.68 692.23,429.17 693.34,429.7 C694.46,430.24 695.16,431.53 695.53,431.89" stroke="#0c0c0c" stroke-width="0.85" fill="none" />
</g>
<g transform="translate(0,0)">
<path d="M681.77,459.65 C681.88,458.73 681.77,456.44 682.42,454.13 C683.06,451.81 684.13,448.56 685.63,445.77 C687.13,442.99 689.16,439.77 691.41,437.42 C693.66,435.06 697.84,432.6 699.13,431.63 L724.7,436.77 L724.96,442.17 L724.96,442.17 C723.05,442.66 717.14,443.84 713.52,445.13 C709.9,446.41 706.52,448.17 703.24,449.88 C699.96,451.6 696.9,453.68 693.86,455.41 C690.81,457.15 687,459.59 684.99,460.3 C682.97,461 682.31,459.76 681.77,459.65 Z" stroke="#0c0c0c" stroke-width="0.935" fill="#fff" />
</g>
<line x1="724.7" y1="436.75" x2="839.8" y2="370.9" stroke="#0c0c0c" stroke-width="0.935"/>
<line x1="656.9" y1="479.1" x2="677.3" y2="467.4" stroke="#0c0c0c" stroke-width="0.935"/>
<path d="M676.6,465.6 L676.6,471.4 A6.5,3.6 0 0 0 689.6,471.4 L689.6,465.6" stroke="#0c0c0c" stroke-width="0.935" fill="#fff" />
<ellipse cx="683.1" cy="465.6" rx="6.5" ry="3.6" stroke="#0c0c0c" stroke-width="0.935" fill="#fff"/>
<path d="M676.6,467.2 A6.5,3.6 0 0 0 689.6,467.2" stroke="#0c0c0c" stroke-width="0.765" fill="none" />
<path d="M815.79,406.67 C816.82,406.33 819.34,404.91 821.97,404.61 C824.6,404.31 828.38,404.2 831.58,404.89 C834.78,405.57 838.45,407.17 841.19,408.73 C843.94,410.29 846.11,412.28 848.06,414.22 C850,416.17 852.06,419.37 852.86,420.4" stroke="#0c0c0c" stroke-width="0.85" fill="none" />
<path d="M815.79,406.67 C817.74,406.69 823.69,406.24 827.46,406.81 C831.24,407.38 835.24,408.64 838.45,410.1 C841.65,411.57 844.4,413.88 846.68,415.6 C848.97,417.31 851.26,419.6 852.18,420.4" stroke="#0c0c0c" stroke-width="0.765" fill="none" />
<path d="M853.55,421.09 L858.36,418.34 L858.77,423.83 Z" stroke="#0c0c0c" stroke-width="0.765" fill="none" />
<path d="M815.8,406.7 L895.5,460 C897.35,461.58 903.18,465.87 906.6,469.45 C910.03,473.03 913.32,477.17 916.04,481.46 C918.75,485.75 920.9,490.61 922.9,495.18 C924.9,499.75 927.16,506.68 928.04,508.9 C928.93,511.13 927.87,507.05 928.19,508.54 C928.5,510.02 929.65,516.26 929.94,517.81" stroke="#0c0c0c" stroke-width="0.935" fill="none" />
<path d="M860.4,426.3 L904.9,456.6 C906.61,457.88 912.04,461.31 915.18,464.31 C918.32,467.3 921.18,470.88 923.76,474.6 C926.33,478.31 928.76,482.6 930.62,486.6 C932.48,490.61 934.11,496.67 934.91,498.61 C935.7,500.55 934.97,496.93 935.4,498.24 C935.82,499.55 937.11,504.42 937.46,506.48 C937.8,508.54 937.46,509.91 937.46,510.6" stroke="#0c0c0c" stroke-width="0.935" fill="none" />
<path d="M904.89,456.59 C903.32,457.16 898.6,458.16 895.45,460.02 C892.31,461.88 888.88,464.73 886.02,467.74 C883.16,470.74 880.3,474.6 878.3,478.03 C876.3,481.46 874.79,485.6 874.01,488.32 C873.24,491.03 873.73,493.32 873.67,494.32" stroke="#0c0c0c" stroke-width="0.85" fill="none" />
<path d="M819.1,454.9 L873.2,488.3 C874.34,489.45 878.66,493.87 880.02,495.18 C881.37,496.49 880.08,494.64 881.33,496.18 C882.58,497.72 885.71,501.5 887.51,504.42 C889.31,507.34 891.03,510.94 892.14,513.69 C893.26,516.43 893.86,519.69 894.2,520.9" stroke="#0c0c0c" stroke-width="0.935" fill="none" />
<path d="M820.8,465.2 L870.6,494.3 C871.53,494.87 874.22,496.04 876.18,497.72 C878.14,499.41 880.64,501.93 882.36,504.42 C884.07,506.91 885.53,510.6 886.48,512.66 C887.42,514.72 887.34,515.58 888.02,516.78 C888.71,517.98 890.17,519.35 890.6,519.87" stroke="#0c0c0c" stroke-width="0.85" fill="none" />
<path d="M815.79,406.67 C814.99,407.47 812.36,408.85 810.98,411.48 C809.61,414.11 808.58,418.34 807.55,422.46 C806.52,426.58 805.22,434.1 804.81,436.19 C804.39,438.28 805.3,433.83 805.05,435 C804.81,436.17 803.79,440.61 803.34,443.24 C802.88,445.87 802.59,448.38 802.31,450.79 C802.02,453.19 802.02,455.59 801.62,457.65 C801.22,459.71 800.65,461.97 799.9,463.14 C799.16,464.31 797.62,464.4 797.16,464.65" stroke="#0c0c0c" stroke-width="0.85" fill="none" />
<path d="M815.79,408.04 C815.45,410.45 814.14,418 813.73,422.46 C813.32,426.92 813.34,432.73 813.32,434.82 C813.3,436.91 813.6,432.68 813.63,435 C813.66,437.32 813.49,444.95 813.49,448.73 C813.49,452.5 813.44,455.36 813.63,457.65 C813.83,459.94 814.09,461.31 814.66,462.45 C815.23,463.6 816.66,464.17 817.06,464.51" stroke="#0c0c0c" stroke-width="0.85" fill="none" />
<path d="M792.7,465.2 C792.98,464.74 793.92,463.6 794.41,462.45 C794.91,461.31 795.36,459.77 795.65,458.34 C795.93,456.91 795.65,455.02 796.13,453.87 C796.61,452.73 797.33,452.16 798.53,451.47 C799.73,450.79 801.62,450.16 803.34,449.76 C805.05,449.36 807,449.07 808.83,449.07 C810.66,449.07 812.83,449.3 814.32,449.76 C815.8,450.21 816.95,451.01 817.75,451.82 C818.55,452.62 818.8,453.36 819.12,454.56 C819.44,455.76 819.44,457.59 819.67,459.02 C819.9,460.45 820.24,462.11 820.49,463.14 C820.75,464.17 821.07,464.86 821.18,465.2" stroke="#0c0c0c" stroke-width="0.85" fill="none" />
<path d="M794.76,464.51 C794.93,464.23 795.44,463.71 795.79,462.8 C796.13,461.88 796.59,460.34 796.82,459.02 C797.04,457.71 796.64,455.99 797.16,454.9 C797.67,453.82 798.76,453.13 799.9,452.5 C801.05,451.87 802.53,451.44 804.02,451.13 C805.51,450.82 807.22,450.61 808.83,450.65 C810.43,450.68 812.26,450.95 813.63,451.33 C815,451.72 816.31,452.36 817.06,452.98 C817.82,453.6 817.93,454.03 818.16,455.04 C818.39,456.05 818.22,457.67 818.44,459.02 C818.65,460.37 819.12,462.17 819.46,463.14 C819.81,464.11 820.32,464.57 820.49,464.86" stroke="#0c0c0c" stroke-width="0.765" fill="none" />
<path d="M795.92,464.38 C795.92,464.63 798.78,466.23 800.59,466.71 C802.4,467.19 804.71,467.26 806.77,467.26 C808.83,467.26 811.09,467.19 812.94,466.71 C814.8,466.23 817.89,464.63 817.89,464.38 C817.89,464.12 814.8,464.99 812.94,465.2 C811.09,465.4 808.83,465.61 806.77,465.61 C804.71,465.61 802.4,465.4 800.59,465.2 C798.78,464.99 795.92,464.12 795.92,464.38 Z" stroke="#0c0c0c" stroke-width="0.68" fill="#0c0c0c" />
<path d="M886.99,515.23 C887.42,515.83 888.28,517.72 889.57,518.84 C890.85,519.95 892.31,521.15 894.72,521.93 C897.12,522.7 900.9,523.33 903.99,523.47 C907.08,523.61 909.99,523.26 913.25,522.75 C916.52,522.23 920.46,521.38 923.55,520.38 C926.64,519.39 929.65,517.98 931.79,516.78 C933.94,515.58 935.48,514.29 936.43,513.17 C937.37,512.06 937.28,510.6 937.46,510.08" stroke="#0c0c0c" stroke-width="1.8" fill="none" />
<path d="M892.45,522.44 C892.57,523.56 892.71,527.42 893.17,529.13 C893.64,530.85 893.94,531.62 895.23,532.74 C896.52,533.86 898.58,535.02 900.9,535.83 C903.21,536.64 906.39,537.41 909.13,537.58 C911.88,537.75 914.63,537.49 917.37,536.86 C920.12,536.22 923.21,534.97 925.61,533.77 C928.02,532.57 930.16,531.11 931.79,529.65 C933.42,528.19 934.88,526.99 935.4,525.02 C935.91,523.04 934.97,519.01 934.88,517.81" stroke="#0c0c0c" stroke-width="1.02" fill="none" />
<path d="M896.26,528.62 L902.44,530.68 L902.96,534.8 L896.98,532.74 Z" stroke="#0c0c0c" stroke-width="0.765" fill="none" />
</g>
<text x="967.3" y="576.5" font-size="15.9" text-anchor="end" fill="#a6a6a6" font-family="'Liberation Sans', sans-serif">suntechnica.ru</text>
</g>
</svg>
</body></html>
